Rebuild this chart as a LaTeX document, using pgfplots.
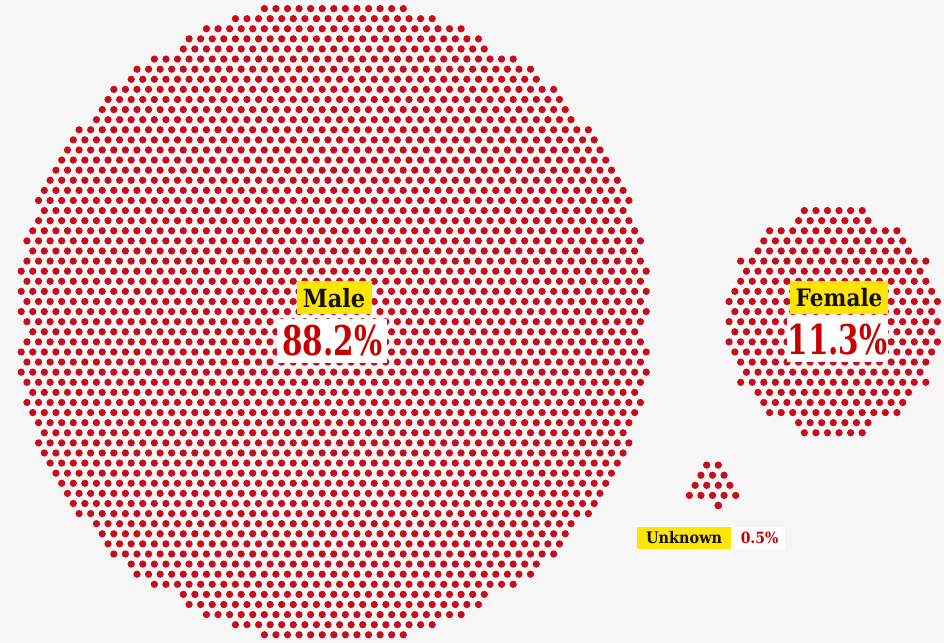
\documentclass[border=0pt]{standalone}
\usepackage{pgfplots}
\pgfplotsset{compat=1.18}
\usepackage{fontspec}
\newfontfamily\labf{DejaVu Serif}[FakeStretch=0.9]
\newfontfamily\numf{DejaVu Serif}[FakeStretch=0.72]
\definecolor{bg}{HTML}{F6F6F6}
\definecolor{dotred}{HTML}{C40F1C}
\definecolor{gred}{HTML}{C70000}
\definecolor{gyel}{HTML}{FFE500}
\definecolor{ink}{HTML}{121212}

% one dot per lattice step: the dash period equals the x unit
\pgfplotsset{
  dotrow/.style={dotred, line width=7.3pt, line cap=round,
    dash pattern=on 0pt off 11.575pt, unbounded coords=jump, forget plot},
}

\begin{document}
\begin{tikzpicture}
\begin{axis}[
  x=11.58pt, y=10.1pt, y dir=reverse,
  xmin=-28.83, xmax=52.69, ymin=-31.85, ymax=31.81,
  hide axis, clip=false,
]
\fill[bg] (rel axis cs:0,0) rectangle (rel axis cs:1,1);

% Male: each row runs from -a to +a (dot lattice units), rows -31..31
\addplot[dotrow] coordinates {
(-6,-31) (6,-31) (nan,nan)
(-8.5,-30) (8.5,-30) (nan,nan)
(-11,-29) (11,-29) (nan,nan)
(-12.5,-28) (12.5,-28) (nan,nan)
(-13,-27) (13,-27) (nan,nan)
(-15.5,-26) (15.5,-26) (nan,nan)
(-17,-25) (17,-25) (nan,nan)
(-17.5,-24) (17.5,-24) (nan,nan)
(-19,-23) (19,-23) (nan,nan)
(-19.5,-22) (19.5,-22) (nan,nan)
(-20,-21) (20,-21) (nan,nan)
(-20.5,-20) (20.5,-20) (nan,nan)
(-22,-19) (22,-19) (nan,nan)
(-22.5,-18) (22.5,-18) (nan,nan)
(-23,-17) (23,-17) (nan,nan)
(-23.5,-16) (23.5,-16) (nan,nan)
(-24,-15) (24,-15) (nan,nan)
(-24.5,-14) (24.5,-14) (nan,nan)
(-25,-13) (25,-13) (nan,nan)
(-25.5,-12) (25.5,-12) (nan,nan)
(-25,-11) (25,-11) (nan,nan)
(-25.5,-10) (25.5,-10) (nan,nan)
(-26,-9) (26,-9) (nan,nan)
(-26.5,-8) (26.5,-8) (nan,nan)
(-26,-7) (26,-7) (nan,nan)
(-26.5,-6) (26.5,-6) (nan,nan)
(-27,-5) (27,-5) (nan,nan)
(-26.5,-4) (26.5,-4) (nan,nan)
(-27,-3) (27,-3) (nan,nan)
(-26.5,-2) (26.5,-2) (nan,nan)
(-27,-1) (27,-1) (nan,nan)
(-26.5,0) (26.5,0) (nan,nan)
(-26,1) (26,1) (nan,nan)
(-26.5,2) (26.5,2) (nan,nan)
(-27,3) (27,3) (nan,nan)
(-26.5,4) (26.5,4) (nan,nan)
(-27,5) (27,5) (nan,nan)
(-26.5,6) (26.5,6) (nan,nan)
(-26,7) (26,7) (nan,nan)
(-26.5,8) (26.5,8) (nan,nan)
(-26,9) (26,9) (nan,nan)
(-25.5,10) (25.5,10) (nan,nan)
(-25,11) (25,11) (nan,nan)
(-25.5,12) (25.5,12) (nan,nan)
(-25,13) (25,13) (nan,nan)
(-24.5,14) (24.5,14) (nan,nan)
(-24,15) (24,15) (nan,nan)
(-23.5,16) (23.5,16) (nan,nan)
(-23,17) (23,17) (nan,nan)
(-22.5,18) (22.5,18) (nan,nan)
(-22,19) (22,19) (nan,nan)
(-20.5,20) (20.5,20) (nan,nan)
(-20,21) (20,21) (nan,nan)
(-19.5,22) (19.5,22) (nan,nan)
(-19,23) (19,23) (nan,nan)
(-17.5,24) (17.5,24) (nan,nan)
(-17,25) (17,25) (nan,nan)
(-15.5,26) (15.5,26) (nan,nan)
(-13,27) (13,27) (nan,nan)
(-12.5,28) (12.5,28) (nan,nan)
(-11,29) (11,29) (nan,nan)
(-8.5,30) (8.5,30) (nan,nan)
(-6,31) (6,31)
};

% Female: centred at x = 43.13
\addplot[dotrow, x filter/.expression={x+43.13}] coordinates {
(-2.5,-11) (2.5,-11) (nan,nan)
(-3,-10) (3,-10) (nan,nan)
(-5.5,-9) (5.5,-9) (nan,nan)
(-6,-8) (6,-8) (nan,nan)
(-6.5,-7) (6.5,-7) (nan,nan)
(-8,-6) (8,-6) (nan,nan)
(-7.5,-5) (7.5,-5) (nan,nan)
(-8,-4) (8,-4) (nan,nan)
(-8.5,-3) (8.5,-3) (nan,nan)
(-9,-2) (9,-2) (nan,nan)
(-8.5,-1) (8.5,-1) (nan,nan)
(-9,0) (9,0) (nan,nan)
(-8.5,1) (8.5,1) (nan,nan)
(-9,2) (9,2) (nan,nan)
(-8.5,3) (8.5,3) (nan,nan)
(-8,4) (8,4) (nan,nan)
(-7.5,5) (7.5,5) (nan,nan)
(-8,6) (8,6) (nan,nan)
(-6.5,7) (6.5,7) (nan,nan)
(-6,8) (6,8) (nan,nan)
(-5.5,9) (5.5,9) (nan,nan)
(-3,10) (3,10) (nan,nan)
(-2.5,11) (2.5,11)
};

% Unknown: centred at x = 32.7, first row at y = 14.2
\addplot[dotrow, x filter/.expression={x+32.7}, y filter/.expression={y+14.2}] coordinates {
(-0.5,0) (0.5,0) (nan,nan)
(-1,1) (1,1) (nan,nan)
(-1.5,2) (1.5,2) (nan,nan)
(-2,3) (2,3)
};
\addplot[only marks, mark=*, mark size=3.65pt, dotred, forget plot,
  x filter/.expression={x+32.7}, y filter/.expression={y+14.2}]
  coordinates {(0.5,4)};

% labels
\node[fill=gyel, inner sep=0pt, minimum width=75pt, minimum height=33pt,
  text=ink, font=\labf\bfseries\fontsize{25}{25}\selectfont]
  at (axis cs:0.02,-2.35) {Male};
\node[fill=white, inner sep=0pt, minimum width=110pt, minimum height=44pt,
  text=gred, font=\numf\bfseries\fontsize{41}{41}\selectfont]
  at (axis cs:-0.15,1.9) {88.2\%};

\node[fill=gyel, inner sep=0pt, minimum width=98pt, minimum height=33pt,
  text=ink, font=\labf\bfseries\fontsize{24}{24}\selectfont]
  at (axis cs:43.63,-2.35) {Female};
\node[fill=white, inner sep=0pt, minimum width=101pt, minimum height=44pt,
  text=gred, font=\numf\bfseries\fontsize{41}{41}\selectfont]
  at (axis cs:43.5,1.81) {11.3\%};

\node[fill=gyel, inner sep=0pt, minimum width=94pt, minimum height=22pt,
  text=ink, font=\labf\bfseries\fontsize{16}{16}\selectfont]
  at (axis cs:30.25,21.42) {Unknown};
\node[fill=white, inner sep=0pt, minimum width=50pt, minimum height=22pt,
  text=gred, font=\labf\bfseries\fontsize{15.5}{15.5}\selectfont]
  at (axis cs:36.76,21.42) {0.5\%};
\end{axis}
\end{tikzpicture}
\end{document}
